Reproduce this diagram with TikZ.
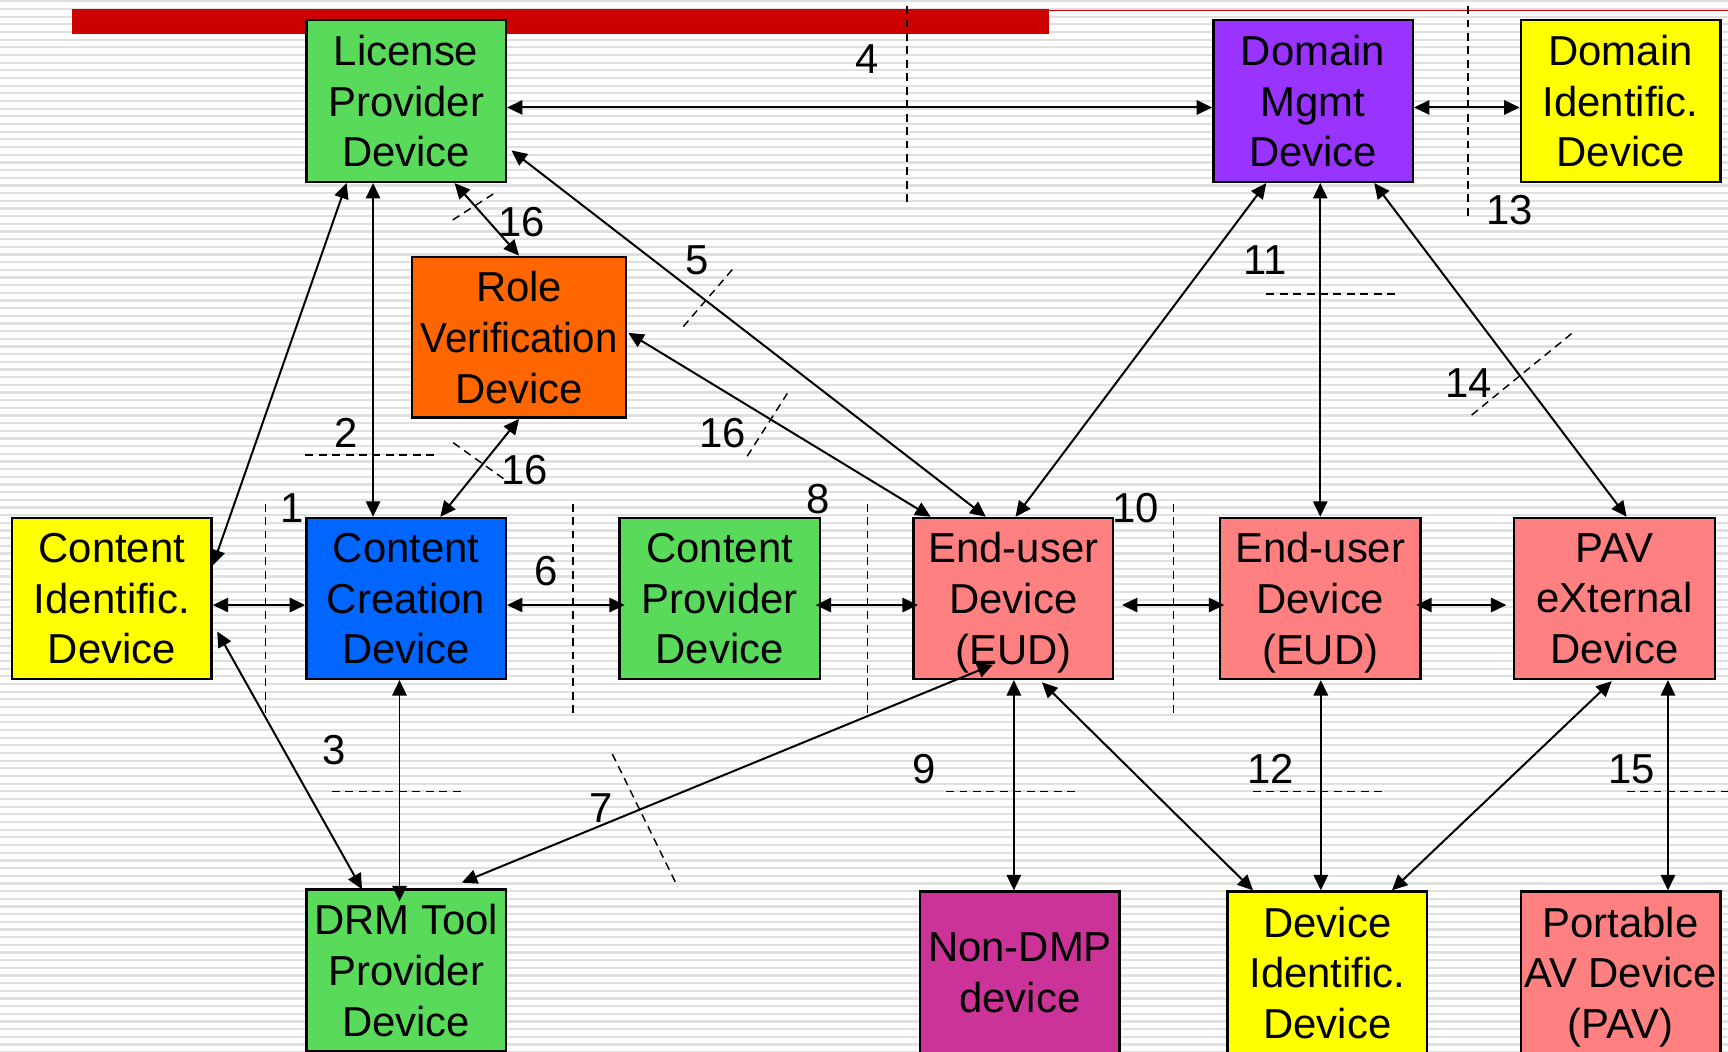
\documentclass[tikz,border=0pt]{standalone}
\usepackage{fontspec}
\setmainfont{Liberation Sans}
\usetikzlibrary{arrows.meta,calc}

\definecolor{cgreen}{RGB}{90,218,90}
\definecolor{cpurple}{RGB}{153,51,255}
\definecolor{cyellow}{RGB}{255,255,0}
\definecolor{corange}{RGB}{255,102,0}
\definecolor{cblue}{RGB}{0,102,255}
\definecolor{cpink}{RGB}{255,128,128}
\definecolor{cmagenta}{RGB}{204,51,153}
\definecolor{cred}{RGB}{204,0,0}
\definecolor{stripegray}{RGB}{224,224,224}

\begin{document}
\begin{tikzpicture}[x=0.5pt,y=-0.5pt,
  box/.style={draw=black, line width=1.1pt, minimum width=90.5pt, minimum height=73.5pt,
              inner sep=0pt, align=center, text depth=-3pt, font=\fontsize{19}{23}\selectfont},
  conn/.style={line width=0.9pt, {Triangle[length=7pt,width=6.5pt]}-{Triangle[length=7pt,width=6.5pt]}},
  guide/.style={line width=0.65pt, dash pattern=on 3.6pt off 2.5pt},
  lbl/.style={inner sep=0pt, font=\fontsize{19}{23}\selectfont},
  stripe/.style={line width=1pt, draw=stripegray}]

\useasboundingbox (0,0) rectangle (1568,954);
\clip (0,0) rectangle (1568,954);

% striped background
\fill[white] (0,0) rectangle (1568,954);
\foreach \i in {0,...,137}
  \draw[stripe] (0,1.2+6.96*\i) -- (1568,1.2+6.96*\i);

% title bar
\fill[cred] (65,8.2) rectangle (952,30.6);
\draw[cred, line width=0.7pt] (952,9.6) -- (1568,9.6);

% interface boundaries
\draw[guide] (241,457) -- (241,651);
\draw[guide] (520,457) -- (520,651);
\draw[guide] (787,457) -- (787,651);
\draw[guide] (1065,457) -- (1065,651);
\draw[guide] (823,5.5) -- (823,188);
\draw[guide] (1332,5.5) -- (1332,200);
\draw[guide] (277,413) -- (399,413);
\draw[guide] (301,718.4) -- (422,718.4);
\draw[guide] (858.5,718.4) -- (979.5,718.4);
\draw[guide] (1137,718.4) -- (1259,718.4);
\draw[guide] (1476,718.4) -- (1568,718.4);
\draw[guide] (1149,266.8) -- (1271,266.8);
\draw[guide] (1335.4,376.6) -- (1428.9,300.4);
\draw[guide] (620,296.4) -- (665.4,243.5);
\draw[guide] (410.8,199.6) -- (447.6,176);
\draw[guide] (678,414) -- (714.4,357);
\draw[guide] (411.2,401.7) -- (457.8,435);
\draw[guide] (555.6,684.2) -- (614.9,804.6);

% devices
\node[box, fill=cgreen] (lic) at (368.5,91.5) {License\\Provider\\Device};
\node[box, fill=cpurple] (dmg) at (1191.5,91.5) {Domain\\Mgmt\\Device};
\node[box, fill=cyellow] (did) at (1470.5,91.5) {Domain\\Identific.\\Device};
\node[box, fill=corange, minimum width=97pt, minimum height=73pt] (role) at (471,306)
  {Role\\\scalebox{0.96}[1]{Verification}\\Device};
\node[box, fill=cyellow, minimum height=73pt] (cid) at (101.5,543) {Content\\Identific.\\Device};
\node[box, fill=cblue, minimum height=73pt] (ccr) at (368.5,543) {Content\\Creation\\Device};
\node[box, fill=cgreen, minimum width=91pt, minimum height=73pt] (cpr) at (653,543) {Content\\Provider\\Device};
\node[box, fill=cpink, minimum height=73pt] (eud1) at (919.5,543) {End-user\\Device\\(EUD)};
\node[box, fill=cpink, minimum width=91pt, minimum height=73pt] (eud2) at (1198,543) {End-user\\Device\\(EUD)};
\node[box, fill=cpink, minimum width=91pt, minimum height=73pt] (pavx) at (1465,543) {PAV\\eXternal\\Device};
\node[box, fill=cgreen] (drm) at (368.5,880.5) {DRM Tool\\Provider\\Device};
\node[box, fill=cmagenta] (ndmp) at (925.5,882.5) {Non-DMP\\device};
\node[box, fill=cyellow] (devid) at (1204.5,882.5) {Device\\Identific.\\Device};
\node[box, fill=cpink] (pav) at (1470.5,882.5) {Portable\\AV Device\\(PAV)};

% interfaces between devices
\draw[conn] ($(lic.east)+(0,6)$) -- ($(dmg.west)+(0,6)$);
\draw[conn] ($(dmg.east)+(0,6)$) -- ($(did.west)+(0,6)$);
\draw[conn] ($(lic.south)+(-30,0)$) -- ($(ccr.north)+(-30,0)$);
\draw[conn] ($(cid.east)+(0,-30)$) -- ($(lic.south)+(-54,0)$);
\draw[conn] ($(lic.south)+(44,0)$) -- (role.north);
\draw[conn] ($(lic.east)+(4,45)$) -- ($(eud1.north)+(-25,0)$);
\draw[conn] (role.south) -- ($(ccr.north)+(31,0)$);
\draw[conn] ($(role.east)+(1,-4)$) -- ($(eud1.north)+(-75,0)$);
\draw[conn] ($(dmg.south)+(-42.5,0)$) -- ($(eud1.north)+(2,0)$);
\draw[conn] ($(dmg.south)+(6.5,0)$) -- (eud2.north);
\draw[conn] ($(dmg.south)+(55.5,0)$) -- ($(pavx.north)+(11,0)$);
\draw[conn] ($(cid.east)+(0,6)$) -- ($(ccr.west)+(0,6)$);
\draw[conn] ($(ccr.east)+(0,6)$) -- ($(cpr.west)+(6,6)$);
\draw[conn] ($(cpr.east)+(-5,6)$) -- ($(eud1.west)+(5,6)$);
\draw[conn] ($(eud1.east)+(7,6)$) -- ($(eud2.west)+(5,6)$);
\draw[conn] ($(eud2.east)+(-5,6)$) -- ($(pavx.west)+(-6,6)$);
\draw[conn] ($(ccr.south)+(-6,0)$) -- ($(drm.north)+(-6,12)$);
\draw[conn] ($(cid.east)+(4,30)$) -- ($(drm.north)+(-40,1)$);
\draw[conn] ($(drm.north)+(50.5,-5)$) -- ($(eud1.south)+(-18.5,-14)$);
\draw[conn] ($(eud1.south)+(0.5,0)$) -- ($(ndmp.north)+(-5.5,0)$);
\draw[conn] ($(eud1.south)+(26,2)$) -- ($(devid.north)+(-67.5,0)$);
\draw[conn] ($(eud2.south)+(0.5,0)$) -- ($(devid.north)+(-6,0)$);
\draw[conn] ($(pavx.south)+(-2.5,1)$) -- ($(devid.north)+(58.5,0)$);
\draw[conn] ($(pavx.south)+(48.5,0)$) -- ($(pav.north)+(43,0)$);

% interface numbers
\node[lbl] (n1) at (265.2,461.3) {1};
\node[lbl] (n2) at (314,393.2) {2};
\node[lbl] (n3) at (303.3,680.6) {3};
\node[lbl] (n4) at (786.5,53.8) {4};
\node[lbl] (n5) at (632.8,236) {5};
\node[lbl] (n6) at (495.8,517.9) {6};
\node[lbl] (n7) at (545.4,733.5) {7};
\node[lbl] (n8) at (742.2,453.1) {8};
\node[lbl] (n9) at (838.7,698.1) {9};
\node[lbl] (n10) at (1030.5,460.7) {10};
\node[lbl] (n11) at (1148.3,236) {11};
\node[lbl] (n12) at (1152.8,698.1) {12};
\node[lbl] (n13) at (1369.6,190.6) {13};
\node[lbl] (n14) at (1332.5,347.8) {14};
\node[lbl] (n15) at (1480.4,698.1) {15};
\node[lbl] (n16a) at (473.4,201.2) {16};
\node[lbl] (n16b) at (655.9,393.2) {16};
\node[lbl] (n16c) at (476,426.5) {16};
\end{tikzpicture}
\end{document}
